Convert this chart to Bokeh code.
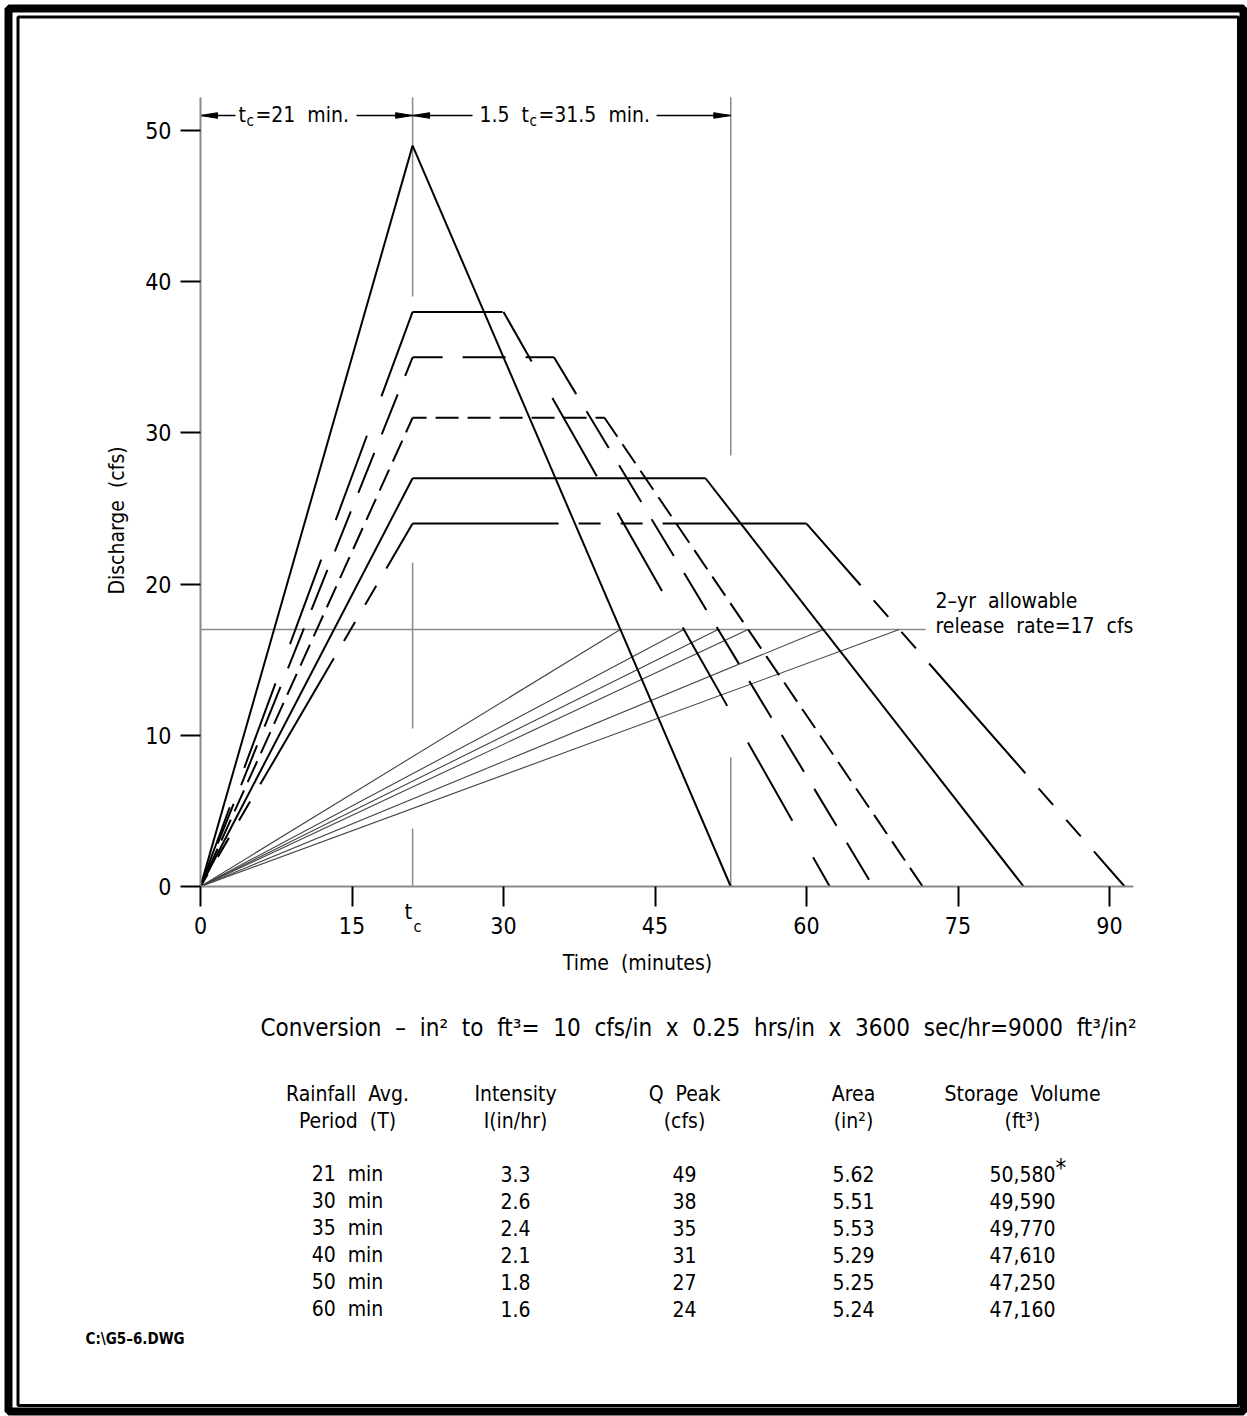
import math
from bokeh.plotting import figure
from bokeh.models import Range1d, FixedTicker, Label, BoxAnnotation
from bokeh.embed import file_html
from bokeh.resources import INLINE

# ---------------- data ----------------
periods = [21, 30, 35, 40, 50, 60]              # rainfall averaging period T (min)
intensity = [3.3, 2.6, 2.4, 2.1, 1.8, 1.6]      # in/hr
q_peak = [49, 38, 35, 31, 27, 24]               # cfs
area = [5.62, 5.51, 5.53, 5.29, 5.25, 5.24]     # in^2
storage = [50580, 49590, 49770, 47610, 47250, 47160]  # ft^3
recession_end = [52.5, 62.3, 66.6, 71.5, 81.5, 91.5]  # min, end of hydrograph
tc = 21                 # time of concentration (min)
recession = 31.5        # 1.5 tc (min)
release_rate = 17       # cfs
release_line_end = 71.8 # min, end of the 17 cfs line
x_ticks = [0, 15, 30, 45, 60, 75, 90]
y_ticks = [0, 10, 20, 30, 40, 50]
x_axis_end = 92.4
y_axis_end = 52.2
header1 = ["Rainfall  Avg.", "Intensity", "Q  Peak", "Area", "Storage  Volume"]
header2 = ["Period  (T)", "I(in/hr)", "(cfs)", "(in\u00b2)", "(ft\u00b3)"]

# ---------------- styles / layout ----------------
dashes = ["solid", "90 42", "43 20", "23 9", "solid", "146 20 22 20 22 20"]
# dash phase per segment: (rising limb drawn from the peak, flat top, recession limb)
dash_offsets = [(0, 0, 0), (0, 0, 33), (23, 13, 0), (7, 9, 0), (0, 0, 0), (94, 0, 64)]
FONT = "DejaVu Sans Condensed, DejaVu Sans, sans-serif"
W, H = 1247, 1416
FL, FB = 200, 886       # canvas pixel of the data origin
PXM = 10.1              # px per minute
PYC = 15.12             # px per cfs
GRAY = "#8a8a8a"


def X(px):
    return (px - FL) / PXM


def Y(py):
    return (FB - py) / PYC


def sp(s):
    return s.replace("  ", " \u00a0")


p = figure(width=W, height=H, x_range=Range1d(X(0), X(W)), y_range=Range1d(Y(H), Y(0)),
           output_backend="svg", toolbar_location=None,
           min_border=0, min_border_left=0, min_border_right=0,
           min_border_top=0, min_border_bottom=0)
p.grid.visible = False
p.outline_line_color = None
p.background_fill_color = "white"
p.border_fill_color = "white"

p.xaxis.fixed_location = 0
p.yaxis.fixed_location = 0
p.xaxis.bounds = (0, x_axis_end)
p.yaxis.bounds = (0, y_axis_end)
for ax, ticks in ((p.xaxis, x_ticks), (p.yaxis, y_ticks)):
    ax.ticker = FixedTicker(ticks=ticks)
    ax.axis_line_color = GRAY
    ax.axis_line_width = 2
    ax.major_tick_line_color = "black"
    ax.major_tick_line_width = 2
    ax.major_tick_out = 20
    ax.major_tick_in = 0
    ax.minor_tick_out = 0
    ax.minor_tick_in = 0
    ax.major_label_text_font = FONT
    ax.major_label_text_font_size = "23px"
    ax.major_label_text_color = "black"
p.xaxis.major_label_standoff = 10
p.yaxis.major_label_standoff = 9

# 17 cfs allowable release line
p.line([0, release_line_end], [release_rate, release_rate], line_color=GRAY, line_width=1.5)

# extension (dimension) lines
ext_tc = [(y_axis_end, Y(296)), (Y(562), Y(728)), (Y(828), 0)]
for y0, y1 in ext_tc:
    p.line([tc, tc], [y0, y1], line_color=GRAY, line_width=1.5)
ext_end = [(y_axis_end, Y(455)), (Y(757), 0)]
for y0, y1 in ext_end:
    p.line([tc + recession, tc + recession], [y0, y1], line_color=GRAY, line_width=1.5)

# release-rate lines from origin to the recession limbs at 17 cfs
for T, Q, Te in zip(periods, q_peak, recession_end):
    tx = Te - release_rate / Q * (Te - T)
    p.line([0, tx], [0, release_rate], line_color="#444444", line_width=1.1)

# hydrographs
for i, (T, Q, Te) in enumerate(zip(periods, q_peak, recession_end)):
    o_rise, o_flat, o_fall = dash_offsets[i]
    kw = dict(line_color="black", line_width=2, line_dash=dashes[i])
    p.line([tc, 0], [Q, 0], line_dash_offset=o_rise, **kw)
    if T > tc:
        p.line([tc, T], [Q, Q], line_dash_offset=o_flat, **kw)
    p.line([T, Te], [Q, 0], line_dash_offset=o_fall, **kw)

# dimension arrows on top
ya = Y(115)
AL = 17 / PXM
AH = 2.8 / PYC
p.line([0, X(235)], [ya, ya], line_color="black", line_width=1.5)
p.line([X(356), tc], [ya, ya], line_color="black", line_width=1.5)
p.line([tc, X(472)], [ya, ya], line_color="black", line_width=1.5)
p.line([X(656), tc + recession], [ya, ya], line_color="black", line_width=1.5)
heads_x = [[0, AL, AL], [tc, tc - AL, tc - AL], [tc, tc + AL, tc + AL],
           [tc + recession, tc + recession - AL, tc + recession - AL]]
heads_y = [[ya, ya + AH, ya - AH]] * 4
p.patches(heads_x, heads_y, fill_color="black", line_color="black", line_width=1)


def lab(text, px, py, size, align="left", baseline="middle", angle=0.0, style="normal"):
    p.add_layout(Label(x=X(px), y=Y(py), text=sp(text), text_font=FONT,
                       text_font_size=f"{size}px", text_align=align,
                       text_baseline=baseline, angle=angle, text_color="black",
                       text_font_style=style))


# dimension texts
lab("t", 238, 114, 21)
lab("c", 246, 120, 15)
lab("=21  min.", 255, 114, 21)
lab("1.5  t", 479, 114, 21)
lab("c", 529, 120, 15)
lab("=31.5  min.", 538, 114, 21)

# tc under the axis
lab("t", 404, 911, 22)
lab("c", 413, 926, 16)

# axis titles
lab("Time  (minutes)", 637, 962, 21, align="center")
lab("Discharge  (cfs)", 116, 520, 21, align="center", angle=math.pi / 2)

# release label
lab("2\u2013yr  allowable", 935, 600, 21)
lab("release  rate=17  cfs", 935, 625, 21)

# conversion line
lab("Conversion  \u2013  in\u00b2  to  ft\u00b3=  10  cfs/in  x  0.25  hrs/in  x  3600  sec/hr=9000  ft\u00b3/in\u00b2",
    698, 1027, 24, align="center")

# table
col_x = [347, 515, 684, 853, 1022]
for cx, h1, h2 in zip(col_x, header1, header2):
    lab(h1, cx, 1093, 21, align="center")
    lab(h2, cx, 1120, 21, align="center")
for r, (T, I, Q, A, S) in enumerate(zip(periods, intensity, q_peak, area, storage)):
    yy = 1173 + 27.1 * r
    vals = [f"{T}  min", f"{I:.1f}", f"{Q}", f"{A:.2f}", f"{S:,}"]
    for cx, v in zip(col_x, vals):
        lab(v, cx, yy, 21, align="center")
    if r == 0:
        lab("*", 1055, yy - 6, 24)

lab("C:\\G5\u20136.DWG", 85, 1338, 15, style="bold")

# page frame (outer thick + inner thin)
p.add_layout(BoxAnnotation(left=X(8), right=X(1243), top=Y(8), bottom=Y(1411),
                           fill_color=None, fill_alpha=0, line_color="black",
                           line_alpha=1.0, line_width=8))
p.add_layout(BoxAnnotation(left=X(17.5), right=X(1238), top=Y(16.5), bottom=Y(1405),
                           fill_color=None, fill_alpha=0, line_color="black",
                           line_alpha=1.0, line_width=3))

open("out.html", "w").write(file_html(p, INLINE))
